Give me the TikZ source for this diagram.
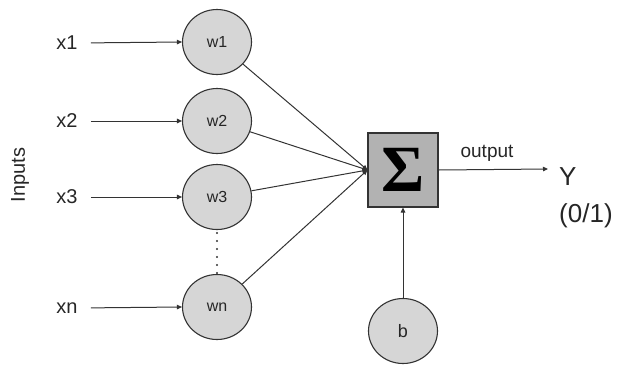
\documentclass[tikz,border=0pt]{standalone}
\usepackage{fontspec}
\setmainfont{Liberation Sans}
\newfontfamily\sigmafont{Liberation Serif}
\usetikzlibrary{arrows.meta,shapes.geometric}
\definecolor{txt}{HTML}{262626}
\definecolor{ln}{HTML}{333333}
\definecolor{cfill}{HTML}{D6D6D6}
\definecolor{bfill}{HTML}{B2B2B2}
\tikzset{
  wnode/.style={ellipse, draw=ln, line width=1.1pt, fill=cfill, minimum width=69pt, minimum height=65pt, inner sep=0pt, text=txt, font=\fontsize{16}{18}\selectfont},
  xlabel/.style={inner sep=0pt, text=txt, font=\fontsize{20}{24}\selectfont},
  conn/.style={draw=ln, line width=1pt, -{Triangle[length=5pt,width=4.5pt]}},
  sumbox/.style={rectangle, draw=ln, line width=1.1pt, fill=bfill, minimum width=70pt, minimum height=74pt, inner sep=0pt},
}
\begin{document}
\begin{tikzpicture}[x=1pt,y=-1pt]
\useasboundingbox (0,0) rectangle (619,365);
\node[xlabel] (x1) at (67,43) {x1};
\node[xlabel] (x2) at (67,121) {x2};
\node[xlabel] (x3) at (67,197) {x3};
\node[xlabel] (xn) at (67,308) {xn};
\node[xlabel, rotate=90] (inp) at (20,175) {Inputs};
\node[wnode] (w1) at (217,42) {w1};
\node[wnode] (w2) at (217,121) {w2};
\node[wnode] (w3) at (217,197) {w3};
\node[wnode] (wn) at (217,307) {wn};
\node[wnode] (b) at (403,331) {\fontsize{18}{20}\selectfont b};
\node[sumbox] (sum) at (403,170) {\sigmafont\bfseries\fontsize{66}{70}\selectfont Σ};
\coordinate (out) at (548,169);
\node[xlabel, anchor=south] (olab) at (487,162) {\fontsize{19}{22}\selectfont output};
\node[xlabel, anchor=west, font=\fontsize{26}{30}\selectfont] (Y) at (559,177) {Y};
\node[xlabel, anchor=west, font=\fontsize{26}{30}\selectfont] (Y01) at (559,216) {(0/1)};
\foreach \i/\w in {x1/w1,x2/w2,x3/w3,xn/wn}{
  \draw[conn, shorten <=13pt] (\i.east) -- (\w.west);
  \draw[conn] (\w) -- (sum.west);
}
\draw[ln, line width=2.2pt, line cap=round, dash pattern=on 0pt off 8pt] ([yshift=-3pt]w3.south) -- (wn.north);
\draw[conn] (b.north) -- (sum.south);
\draw[conn] (sum.east) -- (out);
\end{tikzpicture}
\end{document}
